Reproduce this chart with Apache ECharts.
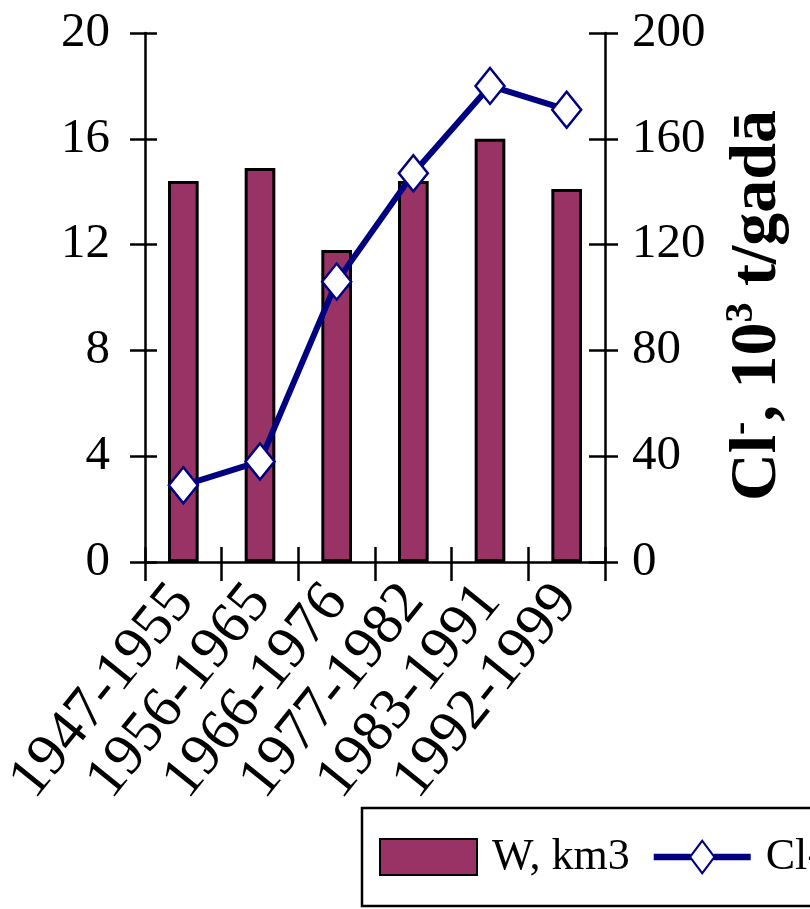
<!DOCTYPE html>
<html>
<head>
<meta charset="utf-8">
<script src="https://cdn.jsdelivr.net/npm/echarts@6/dist/echarts.min.js"></script>
<style>
html,body{margin:0;padding:0;background:#fff;}
#chart{width:810px;height:909px;}
</style>
</head>
<body>
<div id="chart"></div>
<script>
const categories = ['1947-1955','1956-1965','1966-1976','1977-1982','1983-1991','1992-1999'];
const waterValues = [14.4, 14.9, 11.8, 14.4, 16.0, 14.1];
const chlorideValues = [29, 38, 106, 147, 180, 171];
const leftTicks = [0, 4, 8, 12, 16, 20];
const rightTicks = [0, 40, 80, 120, 160, 200];

const FONT = '"Liberation Serif", "Times New Roman", serif';
const chart = echarts.init(document.getElementById('chart'));

const baseY = {
  type: 'value',
  splitLine: {show: false},
  axisLine: {show: true, lineStyle: {color: '#000', width: 2.5}},
  axisTick: {show: true, lineStyle: {color: '#000', width: 2.5}}
};

const lineLegendIcon = 'path://M0,15.5 L37,15.5 L37,22.5 L0,22.5 Z ' +
  'M60,15.5 L97,15.5 L97,22.5 L60,22.5 Z ' +
  'M48.5,0 L62,19 L48.5,38 L35,19 Z ' +
  'M48.5,3.6 L37.6,19 L48.5,34.4 L59.4,19 Z';

chart.setOption({
  animation: false,
  backgroundColor: '#fff',
  grid: {left: 145, right: 205, top: 33, bottom: 347, containLabel: false, outerBoundsMode: 'none'},
  legend: {
    left: 362, top: 808, width: 700,
    padding: [27, 17, 27, 17],
    borderColor: '#000', borderWidth: 2.5,
    itemWidth: 97, itemHeight: 36, itemGap: 24,
    symbolKeepAspect: false,
    textStyle: {fontFamily: FONT, fontSize: 44, color: '#000', padding: [0, 0, 0, 10]},
    data: [
      {name: 'W, km3', icon: 'rect'},
      {name: 'Cl-', icon: lineLegendIcon, itemStyle: {color: '#000080', borderWidth: 0}}
    ]
  },
  xAxis: [
    {
      type: 'category', data: categories, position: 'bottom',
      axisLine: {show: true, lineStyle: {color: '#000', width: 2.5}},
      axisTick: {show: true, length: 19, lineStyle: {color: '#000', width: 2.5}},
      axisLabel: {rotate: 51, fontFamily: FONT, fontSize: 59, color: '#000', margin: 30, interval: 0}
    },
    {
      type: 'category', data: categories, position: 'bottom',
      axisLine: {show: false},
      axisTick: {show: true, inside: true, length: 15, lineStyle: {color: '#000', width: 2.5}},
      axisLabel: {show: false}
    }
  ],
  yAxis: [
    Object.assign({}, baseY, {
      position: 'left', min: leftTicks[0], max: leftTicks[leftTicks.length-1], interval: leftTicks[1]-leftTicks[0],
      axisTick: {show: true, length: 15, lineStyle: {color: '#000', width: 2.5}},
      axisLabel: {fontFamily: FONT, fontSize: 49, color: '#000', margin: 35}
    }),
    Object.assign({}, baseY, {
      position: 'right', min: rightTicks[0], max: rightTicks[rightTicks.length-1], interval: rightTicks[1]-rightTicks[0],
      axisTick: {show: true, length: 13, lineStyle: {color: '#000', width: 2.5}},
      axisLabel: {fontFamily: FONT, fontSize: 49, color: '#000', margin: 27},
      name: '{a|Cl}{s|-}{a|, 10}{s|3}{a| t/gadā}',
      nameLocation: 'middle', nameRotate: 90, nameGap: 117,
      nameTextStyle: {
        padding: [0, 16, 0, 0],
        rich: {
          a: {fontFamily: FONT, fontSize: 66, fontWeight: 'bold', color: '#000', lineHeight: 72},
          s: {fontFamily: FONT, fontSize: 40, fontWeight: 'bold', color: '#000', verticalAlign: 'top', lineHeight: 44}
        }
      }
    }),
    Object.assign({}, baseY, {
      position: 'left', min: leftTicks[0], max: leftTicks[leftTicks.length-1], interval: leftTicks[1]-leftTicks[0],
      axisLine: {show: false},
      axisTick: {show: true, inside: true, length: 12, lineStyle: {color: '#000', width: 2.5}},
      axisLabel: {show: false}
    }),
    Object.assign({}, baseY, {
      position: 'right', min: rightTicks[0], max: rightTicks[rightTicks.length-1], interval: rightTicks[1]-rightTicks[0],
      axisLine: {show: false},
      axisTick: {show: true, inside: true, length: 16, lineStyle: {color: '#000', width: 2.5}},
      axisLabel: {show: false}
    })
  ],
  series: [
    {
      name: 'W, km3', type: 'bar', data: waterValues, xAxisIndex: 0, yAxisIndex: 0,
      barWidth: '40%',
      itemStyle: {color: '#993366', borderColor: '#000', borderWidth: 3}
    },
    {
      name: 'Cl-', type: 'line', data: chlorideValues, xAxisIndex: 0, yAxisIndex: 1,
      symbol: 'diamond', symbolSize: [29, 36], showAllSymbol: true,
      lineStyle: {color: '#000080', width: 6},
      itemStyle: {color: '#fff', borderColor: '#000080', borderWidth: 2.5},
      z: 5
    }
  ]
});
</script>
</body>
</html>
